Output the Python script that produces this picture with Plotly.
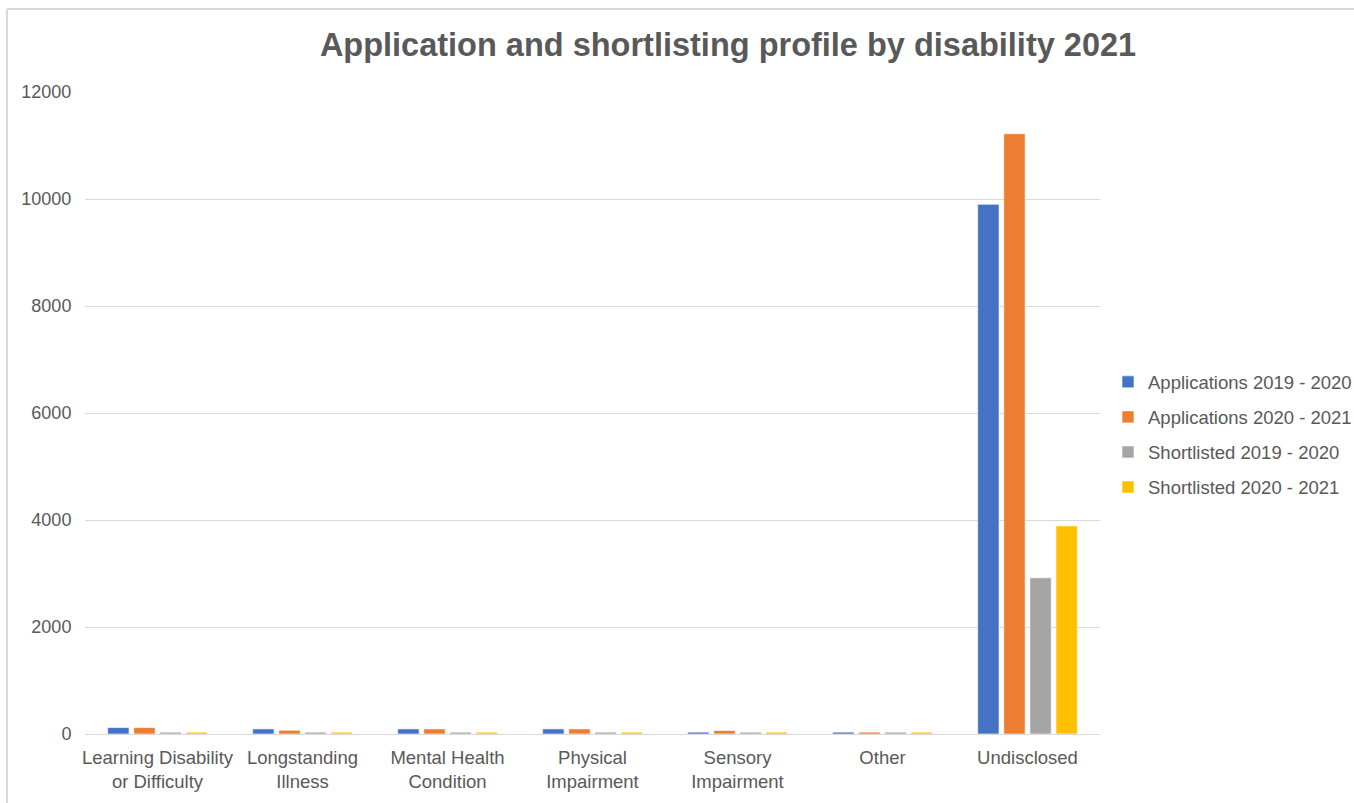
import plotly.graph_objects as go

categories = [
    "Learning Disability<br>or Difficulty",
    "Longstanding<br>Illness",
    "Mental Health<br>Condition",
    "Physical<br>Impairment",
    "Sensory<br>Impairment",
    "Other",
    "Undisclosed",
]

applications_2019_2020 = [120, 95, 95, 95, 35, 35, 9900]
applications_2020_2021 = [120, 70, 95, 95, 65, 35, 11220]
shortlisted_2019_2020 = [35, 35, 35, 35, 35, 35, 2920]
shortlisted_2020_2021 = [35, 35, 35, 35, 35, 35, 3890]

series = [
    ("Applications 2019 - 2020", applications_2019_2020, "#4472C4"),
    ("Applications 2020 - 2021", applications_2020_2021, "#ED7D31"),
    ("Shortlisted 2019 - 2020", shortlisted_2019_2020, "#A5A5A5"),
    ("Shortlisted 2020 - 2021", shortlisted_2020_2021, "#FFC000"),
]

W, H = 1354, 803
FONT = "Liberation Sans, Arial, Helvetica, sans-serif"
TEXT = "#595959"

fig = go.Figure()
for name, vals, color in series:
    fig.add_trace(go.Bar(
        x=categories, y=vals, name=name, legendgroup=name,
        marker=dict(color=color, line=dict(color="rgba(255,255,255,0.6)", width=1)),
    ))

fig.update_layout(
    width=W, height=H,
    margin=dict(l=85, r=254, t=92, b=69, autoexpand=False),
    paper_bgcolor="white", plot_bgcolor="white",
    barmode="group", bargap=0.28, bargroupgap=0.18,
    font=dict(family=FONT, size=18, color=TEXT),
    title=dict(
        text="<b>Application and shortlisting profile by disability 2021</b>",
        x=728 / W, xanchor="center", xref="container",
        y=1 - 45 / H, yanchor="middle", yref="container",
        font=dict(family=FONT, size=32.5, color=TEXT),
    ),
    xaxis=dict(
        showgrid=False, showline=True, linecolor="#D9D9D9", linewidth=1,
        ticks="outside", ticklen=7, tickcolor="rgba(0,0,0,0)",
        tickfont=dict(size=18.5, color=TEXT),
    ),
    yaxis=dict(
        range=[0, 12000], tick0=0, dtick=2000, tickformat="d",
        showgrid=True, gridcolor="#D9D9D9", gridwidth=1,
        zeroline=False, showline=False, ticks="outside", ticklen=9,
        tickcolor="rgba(0,0,0,0)",
        tickfont=dict(size=18, color=TEXT),
    ),
    legend=dict(
        x=1108 / W, xref="container", xanchor="left",
        y=0.466, yanchor="middle",
        font=dict(size=18.5, color=TEXT), tracegroupgap=8,
        bgcolor="rgba(0,0,0,0)",
    ),
    shapes=[
        dict(type="line", xref="paper", yref="paper",
             x0=-78 / 1015, x1=1.0 + 254 / 1015, y0=1 + 83 / 642, y1=1 + 83 / 642,
             line=dict(color="#D9D9D9", width=2)),
        dict(type="line", xref="paper", yref="paper",
             x0=-78 / 1015, x1=-78 / 1015, y0=-69 / 642, y1=1 + 83 / 642,
             line=dict(color="#D9D9D9", width=2)),
    ],
)

fig.write_html("out.html")
